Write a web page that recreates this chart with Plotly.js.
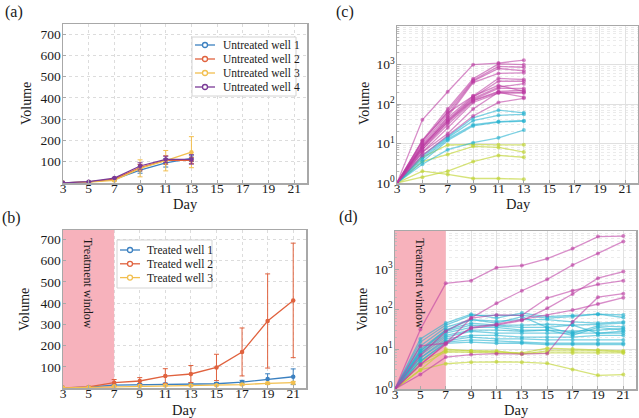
<!DOCTYPE html>
<html>
<head>
<meta charset="utf-8">
<script src="https://cdn.plot.ly/plotly-3.0.1.min.js"></script>
<style>html,body{margin:0;padding:0;background:#fff;}#chart{width:639px;height:418px;}</style>
</head>
<body>
<div id="chart"></div>
<script>
// ---------- Data ----------
const daysA = [3, 5, 7, 9, 11, 13];
const daysB = [3, 5, 7, 9, 11, 13, 15, 17, 19, 21];
const treatmentWindow = [3, 7];

const untreatedNames = ['Untreated well 1', 'Untreated well 2', 'Untreated well 3', 'Untreated well 4'];
const untreated1 = [1, 5, 17, 61, 95, 116];
const untreated2 = [1, 5, 18, 72, 108, 106];
const untreated3 = [1, 4, 12, 69, 105, 145];
const untreated4 = [1, 6, 23, 80, 111, 111];
const untreatedErr1 = [0, 1, 3, 15, 20, 15];
const untreatedErr2 = [0, 1, 3, 15, 20, 15];
const untreatedErr3 = [0, 1, 4, 40, 48, 73];
const untreatedErr4 = [0, 1, 3, 15, 15, 22];

const treatedNames = ['Treated well 1', 'Treated well 2', 'Treated well 3'];
const treated1 = [1, 4, 14, 16, 18, 19, 20, 28, 42, 53];
const treated2 = [1, 5, 25, 33, 56, 66, 97, 170, 316, 413];
const treated3 = [1, 3, 8, 10, 12, 12, 13, 16, 22, 25];
const treatedErr1 = [0, 1, 4, 5, 5, 5, 6, 8, 25, 37];
const treatedErr2 = [0, 2, 15, 16, 35, 40, 62, 113, 222, 270];
const treatedErr3 = [0, 1, 2, 3, 3, 3, 3, 4, 5, 6];

// Panel (c): individual untreated tumours
const cMagenta = [
  [1, 40, 205, 1000, 1100, 1300],
  [1, 12, 75, 440, 1050, 1000],
  [1, 11, 65, 400, 900, 860],
  [1, 10, 55, 380, 800, 700],
  [1, 9, 48, 350, 600, 620],
  [1, 8, 45, 160, 450, 420],
  [1, 8, 40, 150, 380, 380],
  [1, 9, 38, 140, 270, 330],
  [1, 7, 36, 130, 250, 250],
  [1, 8, 34, 125, 210, 225],
  [1, 7, 30, 120, 200, 200],
  [1, 6, 25, 110, 190, 190],
  [1, 6, 18, 75, 200, 150],
  [1, 5, 16, 50, 110, 140],
  [1, 12, 60, 160, 300, 210]
];
const cCyan = [
  [1, 5, 15, 45, 70, 60],
  [1, 4.5, 14, 38, 52, 55],
  [1, 4, 13, 30, 36, 38],
  [1, 3.5, 12, 28, 35, 37],
  [1, 3, 7, 10.5, 14, 22]
];
const cYellow = [
  [1, 4.5, 9.2, 9.5, 9.3, 9.3],
  [1, 3.5, 5.3, 8.5, 8, 6.1],
  [1, 1.4, 2.0, 3.5, 5, 4.5],
  [1, 2.0, 1.65, 1.3, 1.3, 1.25]
];

// Panel (d): individual treated tumours
const dMagenta = [
  [1, 31, 445, 520, 1100, 1240, 1850, 3300, 6600, 6800],
  [1, 12, 14, 60, 140, 290, 560, 1280, 2500, 5000],
  [1, 4, 14, 33, 40, 52, 105, 240, 600, 880],
  [1, 7, 28, 60, 72, 70, 190, 290, 420, 520],
  [1, 2.3, 6.3, 7.3, 7.7, 7.5, 7.8, 48, 200, 245],
  [1, 4.2, 13, 35, 42, 55, 70, 95, 135, 195]
];
const dCyan = [
  [1, 18, 45, 75, 60, 80, 65, 70, 75, 72],
  [1, 15, 40, 70, 70, 70, 60, 65, 75, 62],
  [1, 12, 35, 55, 50, 55, 55, 48, 45, 48],
  [1, 10, 30, 45, 40, 40, 42, 40, 42, 45],
  [1, 9, 28, 40, 38, 35, 35, 25, 38, 36],
  [1, 8, 25, 35, 35, 30, 30, 28, 30, 33],
  [1, 8, 22, 30, 30, 28, 30, 22, 35, 30],
  [1, 7, 20, 28, 25, 25, 25, 24, 25, 25],
  [1, 6, 18, 22, 22, 20, 20, 20, 22, 22],
  [1, 6, 16, 20, 18, 18, 17, 17, 17, 17],
  [1, 5, 15, 17, 16, 15, 14, 14, 14, 14],
  [1, 5, 14, 15, 14, 14, 13, 13, 13, 13],
  [1, 9, 30, 55, 45, 65, 35, 40, 25, 28]
];
const dYellow = [
  [1, 3, 10, 9, 8.5, 8, 10.5, 10, 9.5, 9],
  [1, 4, 8.5, 8.3, 8, 7.8, 8, 8, 8, 8],
  [1, 3, 4.3, 4.7, 4.8, 4.7, 4.4, 3.1, 2.2, 2.3],
  [1, 5, 9, 9, 9, 7.5, 9, 9, 9, 8.5]
];

const xTicks = [3, 5, 7, 9, 11, 13, 15, 17, 19, 21];
const linTicks = [100, 200, 300, 400, 500, 600, 700];
const logTicks = [1, 10, 100, 1000];
const logTickText = ['10<sup>0</sup>', '10<sup>1</sup>', '10<sup>2</sup>', '10<sup>3</sup>'];
const logMinor = [2,3,4,5,6,7,8,9,20,30,40,50,60,70,80,90,200,300,400,500,600,700,800,900,2000,3000,4000,5000,6000,7000,8000,9000];

// ---------- Styles ----------
const wellColors = ['#3b80c0', '#e0623e', '#f2bf4f', '#7a3a96'];
const magenta = 'rgba(188,58,162,0.58)';
const cyan = 'rgba(38,178,208,0.6)';
const yellow = 'rgba(192,212,50,0.65)';
const shade = '#f7b2bc';
const FONT = '"Liberation Serif", "Times New Roman", serif';
const TXT = '#1a1a1a';

// axis ranges
const xRange = [3, 22];
const aTop = 748, bTop = 745, cTop = 3.98, dTop = 3.96;

const traces = [];
// treatment-window shading (drawn first so it sits above the grid but under the data)
function windowTrace(xa, ya, yLow, yHigh) {
  return {
    x: [treatmentWindow[0], treatmentWindow[1], treatmentWindow[1], treatmentWindow[0], treatmentWindow[0]],
    y: [yLow, yLow, yHigh, yHigh, yLow], xaxis: xa, yaxis: ya,
    type: 'scatter', mode: 'lines', fill: 'toself', fillcolor: shade,
    line: {width: 0, color: shade}, showlegend: false, hoverinfo: 'skip'
  };
}
traces.push(windowTrace('x2', 'y2', 0, bTop));
traces.push(windowTrace('x4', 'y4', 1, Math.pow(10, dTop)));

const aData = [untreated1, untreated2, untreated3, untreated4];
const aErr = [untreatedErr1, untreatedErr2, untreatedErr3, untreatedErr4];
aData.forEach((ys, i) => {
  traces.push({
    x: daysA, y: ys, name: untreatedNames[i], type: 'scatter', mode: 'lines+markers',
    xaxis: 'x', yaxis: 'y', showlegend: false,
    line: {color: wellColors[i], width: 1.3},
    marker: {color: wellColors[i], size: 4.5},
    error_y: {type: 'data', array: aErr[i], visible: true, color: wellColors[i], thickness: 1, width: 2.5}
  });
});
const bData = [treated1, treated2, treated3];
const bErr = [treatedErr1, treatedErr2, treatedErr3];
bData.forEach((ys, i) => {
  traces.push({
    x: daysB, y: ys, name: treatedNames[i], type: 'scatter', mode: 'lines+markers',
    xaxis: 'x2', yaxis: 'y2', showlegend: false,
    line: {color: wellColors[i], width: 1.3},
    marker: {color: wellColors[i], size: 4.5},
    error_y: {type: 'data', array: bErr[i], visible: true, color: wellColors[i], thickness: 1, width: 2.5}
  });
});
function addGroup(group, days, color, xa, ya) {
  group.forEach(ys => {
    traces.push({
      x: days, y: ys, type: 'scatter', mode: 'lines+markers', showlegend: false,
      xaxis: xa, yaxis: ya,
      line: {color: color, width: 1.3},
      marker: {color: color, size: 4}
    });
  });
}
addGroup(cYellow, daysA, yellow, 'x3', 'y3');
addGroup(cCyan, daysA, cyan, 'x3', 'y3');
addGroup(cMagenta, daysA, magenta, 'x3', 'y3');
addGroup(dYellow, daysB, yellow, 'x4', 'y4');
addGroup(dCyan, daysB, cyan, 'x4', 'y4');
addGroup(dMagenta, daysB, magenta, 'x4', 'y4');

const W = 639, H = 418;
function px(v) { return v / W; }
function py(v) { return 1 - v / H; }
function dx(a, b) { return [a / W, b / W]; }
function dy(top, bottom) { return [1 - bottom / H, 1 - top / H]; }

const tickFont = {family: FONT, size: 13.5, color: TXT};

function xAxis(dom, anchor) {
  return {
    domain: dom, anchor: anchor, range: xRange, tickvals: xTicks, ticktext: xTicks.map(String),
    showline: true, mirror: true, linecolor: '#a8a8a8', linewidth: 1.5,
    showgrid: true, gridcolor: '#dcdcdc', gridwidth: 1, griddash: 'dot',
    ticks: 'inside', ticklen: 3, tickcolor: '#a8a8a8', ticklabelstandoff: -8,
    tickfont: tickFont, zeroline: false, automargin: false
  };
}
function yLin(dom, anchor, top) {
  return {
    domain: dom, anchor: anchor, range: [0, top], tickvals: linTicks, ticktext: linTicks.map(String),
    showline: true, mirror: true, linecolor: '#a8a8a8', linewidth: 1.5,
    showgrid: true, gridcolor: '#dcdcdc', gridwidth: 1, griddash: 'dot',
    ticks: 'inside', ticklen: 3, tickcolor: '#a8a8a8', ticklabelstandoff: -2,
    tickfont: tickFont, zeroline: false, automargin: false
  };
}
function yLog(dom, anchor, top) {
  return {
    domain: dom, anchor: anchor, type: 'log', range: [0, top], tickvals: logTicks, ticktext: logTickText,
    showline: true, mirror: true, linecolor: '#a8a8a8', linewidth: 1.5,
    showgrid: true, gridcolor: '#e0e0e0', gridwidth: 1,
    ticks: 'inside', ticklen: 4, tickcolor: '#a8a8a8', ticklabelstandoff: -2,
    minor: {tickvals: logMinor, showgrid: true, gridcolor: '#ebebeb', griddash: 'dot', ticks: 'inside', ticklen: 2, tickcolor: '#bbbbbb'},
    tickfont: tickFont, zeroline: false, automargin: false
  };
}
function xLogPanel(dom, anchor) {
  const ax = xAxis(dom, anchor);
  ax.griddash = 'solid';
  ax.gridcolor = '#e2e2e2';
  return ax;
}

// ---------- Text & legend decorations ----------
const annotations = [];
const shapes = [];
function label(text, x, y, size, opts) {
  annotations.push(Object.assign({text: text, xref: 'paper', yref: 'paper', x: px(x), y: py(y),
    xanchor: 'center', yanchor: 'middle', showarrow: false, font: {family: FONT, size: size, color: TXT}}, opts || {}));
}
label('(a)', 14, 12, 16);
label('(b)', 11, 218, 16);
label('(c)', 345, 12, 16);
label('(d)', 348, 217, 16);
label('Volume', 27, 104, 14, {textangle: -90});
label('Volume', 24, 310, 14, {textangle: -90});
label('Volume', 365, 104, 14, {textangle: -90});
label('Volume', 362, 310, 14, {textangle: -90});
label('Day', 185, 204, 14.5);
label('Day', 184, 409.5, 14.5);
label('Day', 518, 204, 14.5);
label('Day', 516, 409.5, 14.5);
annotations.push({text: 'Treatment window', xref: 'x2', yref: 'paper', x: (treatmentWindow[0] + treatmentWindow[1]) / 2, y: py(236),
  xanchor: 'center', yanchor: 'top', textangle: 90, showarrow: false, font: {family: FONT, size: 12, color: TXT}});
annotations.push({text: 'Treatment window', xref: 'x4', yref: 'paper', x: (treatmentWindow[0] + treatmentWindow[1]) / 2, y: py(236),
  xanchor: 'center', yanchor: 'top', textangle: 90, showarrow: false, font: {family: FONT, size: 12, color: TXT}});

function customLegend(names, box, firstY, step, lineX0, lineX1, textX) {
  shapes.push({type: 'rect', xref: 'paper', yref: 'paper', x0: px(box[0]), x1: px(box[2]), y0: py(box[3]), y1: py(box[1]),
    fillcolor: '#ffffff', line: {color: '#d4d4d4', width: 1}, layer: 'above'});
  names.forEach((n, i) => {
    const yy = firstY + i * step;
    shapes.push({type: 'line', xref: 'paper', yref: 'paper', x0: px(lineX0), x1: px(lineX1), y0: py(yy), y1: py(yy),
      line: {color: wellColors[i], width: 1.3}, layer: 'above'});
    const cx = (lineX0 + lineX1) / 2;
    shapes.push({type: 'circle', xref: 'paper', yref: 'paper', x0: px(cx - 2.5), x1: px(cx + 2.5), y0: py(yy + 2.5), y1: py(yy - 2.5),
      fillcolor: '#ffffff', line: {color: wellColors[i], width: 1.3}, layer: 'above'});
    annotations.push({text: n, xref: 'paper', yref: 'paper', x: px(textX), y: py(yy), xanchor: 'left', yanchor: 'middle',
      showarrow: false, font: {family: FONT, size: 11.5, color: TXT}});
  });
}
customLegend(untreatedNames, [192, 37, 296, 96], 45, 14, 195, 215, 221);
customLegend(treatedNames, [117, 240, 212, 288], 250, 13.8, 120, 140, 145);

const layout = {
  width: W, height: H,
  margin: {l: 0, r: 0, t: 0, b: 0},
  paper_bgcolor: '#fff', plot_bgcolor: '#fff',
  font: {family: FONT, color: TXT},
  showlegend: false,
  xaxis: xAxis(dx(63, 307), 'y'),
  yaxis: yLin(dy(24, 183), 'x', aTop),
  xaxis2: xAxis(dx(63, 306), 'y2'),
  yaxis2: yLin(dy(230, 388), 'x2', bTop),
  xaxis3: xLogPanel(dx(397, 638), 'y3'),
  yaxis3: yLog(dy(26, 183), 'x3', cTop),
  xaxis4: xLogPanel(dx(395, 636), 'y4'),
  yaxis4: yLog(dy(231, 389), 'x4', dTop),
  shapes: shapes,
  annotations: annotations
};

Plotly.newPlot('chart', traces, layout, {displayModeBar: false, staticPlot: true});
</script>
</body>
</html>
